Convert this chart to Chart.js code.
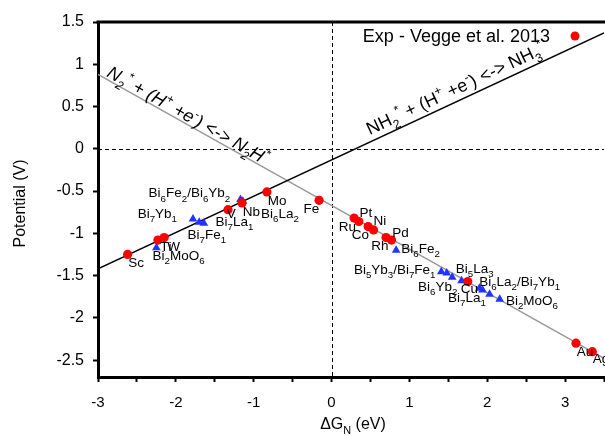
<!DOCTYPE html>
<html>
<head>
<meta charset="utf-8">
<script src="https://cdn.jsdelivr.net/npm/chart.js@4.4.0/dist/chart.umd.min.js"></script>
<style>
  html, body { margin: 0; padding: 0; background: #fff; overflow: hidden; }
</style>
</head>
<body>
<canvas id="potentialChart" width="616" height="436"></canvas>
<script>
const FONT = '"Liberation Sans", Arial, sans-serif';

// Exp - Vegge et al. 2013 (red dots)
const expNames = ['Sc', 'Ti', 'W', 'V', 'Nb', 'Mo', 'Fe', 'Ru', 'Pt', 'Co', 'Ni', 'Rh', 'Pd', 'Cu', 'Au', 'Ag'];
const expX = [-2.62, -2.23, -2.15, -1.33, -1.15, -0.83, -0.16, 0.29, 0.35, 0.47, 0.54, 0.70, 0.77, 1.75, 3.14, 3.35];
const expY = [-1.25, -1.08, -1.05, -0.72, -0.64, -0.51, -0.61, -0.82, -0.86, -0.92, -0.96, -1.05, -1.08, -1.57, -2.30, -2.40];

// Bi compounds (blue triangles)
const biX = [-2.25, -1.78, -1.70, -1.64, -1.17, -1.14, 0.83, 1.41, 1.48, 1.55, 1.67, 1.90, 1.94, 2.03, 2.16];
const biY = [-1.17, -0.83, -0.87, -0.88, -0.60, -0.62, -1.20, -1.455, -1.47, -1.52, -1.56, -1.65, -1.67, -1.72, -1.78];

// reaction lines, given at both ends of the x range
const lineX = [-3, 3.5];
const nh3LineY = [-1.42, 1.37];
const n2hLineY = [0.88, -2.48];

// axis ranges
const xRange = [-3, 3.5];
const yRange = [-2.7, 1.5];

// point labels: text (_ = subscript, ^ = superscript), x, y of left baseline
const pointLabels = [
  ['Bi_6Fe_2/Bi_6Yb_2', -2.35, -0.576],
  ['Bi_7Yb_1', -2.49, -0.817],
  ['Bi_7La_1', -1.49, -0.915],
  ['Bi_7Fe_1', -1.85, -1.072],
  ['Ti', -2.20, -1.207],
  ['W', -2.11, -1.207],
  ['Bi_2MoO_6', -2.30, -1.317],
  ['Sc', -2.61, -1.396],
  ['V', -1.345, -0.824],
  ['Nb', -1.14, -0.793],
  ['Mo', -0.82, -0.667],
  ['Bi_6La_2', -0.905, -0.824],
  ['Fe', -0.36, -0.758],
  ['Pt', 0.36, -0.812],
  ['Ru', 0.094, -0.974],
  ['Ni', 0.54, -0.903],
  ['Co', 0.261, -1.072],
  ['Pd', 0.781, -1.041],
  ['Rh', 0.511, -1.199],
  ['Bi_6Fe_2', 0.897, -1.238],
  ['Bi_5Yb_3/Bi_7Fe_1', 0.287, -1.482],
  ['Bi_5La_3', 1.596, -1.474],
  ['Bi_6Yb_2', 1.111, -1.68],
  ['Cu', 1.66, -1.71],
  ['Bi_6La_2/Bi_7Yb_1', 1.896, -1.624],
  ['Bi_7La_1', 1.497, -1.81],
  ['Bi_2MoO_6', 2.24, -1.849],
  ['Au', 3.149, -2.448],
  ['Ag', 3.355, -2.538]
];

// writes text with _x subscripts and ^x superscripts, returns its width
function richText(ctx, str, x, y, size, style, draw, ratio = 0.68) {
  const small = size * ratio;
  let cx = x;
  for (let i = 0; i < str.length; i++) {
    let ch = str[i], fs = size, dy = 0;
    if (ch === '_') { ch = str[++i]; fs = small; dy = size * 0.3; }
    else if (ch === '^') { ch = str[++i]; fs = small; dy = -size * 0.42; }
    ctx.font = `${style} ${fs}px ${FONT}`;
    if (draw) ctx.fillText(ch, cx, y + dy);
    cx += ctx.measureText(ch).width;
  }
  return cx - x;
}

const annotations = {
  id: 'annotations',
  beforeDatasetsDraw(chart) {
    const { ctx, chartArea: a, scales: { x, y } } = chart;
    ctx.save();
    // dashed zero lines
    ctx.strokeStyle = '#000';
    ctx.lineWidth = 1;
    ctx.setLineDash([4, 3]);
    const x0 = Math.round(x.getPixelForValue(0)) + 0.5;
    const y0 = Math.round(y.getPixelForValue(0)) + 0.5;
    ctx.beginPath();
    ctx.moveTo(x0, a.top); ctx.lineTo(x0, a.bottom);
    ctx.moveTo(a.left, y0); ctx.lineTo(a.right, y0);
    ctx.stroke();
    ctx.restore();
  },
  afterDatasetsDraw(chart) {
    const { ctx, chartArea: a, scales: { x, y } } = chart;
    ctx.save();
    ctx.fillStyle = '#000';
    ctx.textBaseline = 'alphabetic';
    ctx.textAlign = 'left';

    // top frame line
    ctx.strokeStyle = '#000';
    ctx.lineWidth = 3;
    ctx.beginPath();
    ctx.moveTo(a.left - 1.5, a.top);
    ctx.lineTo(a.right + 2, a.top);
    ctx.stroke();

    pointLabels.forEach(([t, lx, ly]) => {
      richText(ctx, t, x.getPixelForValue(lx), y.getPixelForValue(ly), 13.5, 'normal', true, 0.72);
    });

    // reaction labels along the lines
    const lineLabel = (t, lx, ly, yVals, style) => {
      const ang = Math.atan2(y.getPixelForValue(yVals[1]) - y.getPixelForValue(yVals[0]),
                             x.getPixelForValue(lineX[1]) - x.getPixelForValue(lineX[0]));
      ctx.save();
      ctx.translate(x.getPixelForValue(lx), y.getPixelForValue(ly));
      ctx.rotate(ang);
      richText(ctx, t, 0, 0, 18, style, true);
      ctx.restore();
    };
    lineLabel('N_2^* + (H^+ +e^-) <-> N_2H^*', -2.90, 0.86, n2hLineY, 'italic');
    lineLabel('NH_2^* + (H^+ +e^-) <-> NH_3^*', 0.49, 0.16, nh3LineY, 'normal');

    // legend
    ctx.font = `18px ${FONT}`;
    ctx.textAlign = 'right';
    ctx.fillText('Exp - Vegge et al. 2013', 550, 42);
    ctx.fillStyle = '#ff0000';
    ctx.beginPath();
    ctx.arc(575, 36, 4.5, 0, Math.PI * 2);
    ctx.fill();

    // axis titles
    ctx.fillStyle = '#000';
    ctx.textAlign = 'left';
    const xt = 'ΔG_N (eV)';
    const w = richText(ctx, xt, 0, 0, 16, 'normal', false);
    richText(ctx, xt, 353 - w / 2, 429, 16, 'normal', true);

    ctx.translate(21, (a.top + a.bottom) / 2 + 4);
    ctx.rotate(-Math.PI / 2);
    ctx.font = `16px ${FONT}`;
    ctx.textAlign = 'center';
    ctx.textBaseline = 'middle';
    ctx.fillText('Potential (V)', 0, 0);
    ctx.restore();
  }
};

new Chart(document.getElementById('potentialChart'), {
  type: 'scatter',
  data: {
    datasets: [
      {
        label: 'Exp - Vegge et al. 2013',
        data: expX.map((v, i) => ({ x: v, y: expY[i] })),
        backgroundColor: '#ff0000',
        borderWidth: 0,
        pointRadius: 4.6
      },
      {
        label: 'Bi compounds',
        data: biX.map((v, i) => ({ x: v, y: biY[i] })),
        pointStyle: 'triangle',
        backgroundColor: '#2233ff',
        borderWidth: 0,
        pointRadius: 5
      },
      {
        label: 'NH2* -> NH3*',
        type: 'line',
        data: lineX.map((v, i) => ({ x: v, y: nh3LineY[i] })),
        borderColor: '#000',
        borderWidth: 1.4,
        pointRadius: 0
      },
      {
        label: 'N2* -> N2H*',
        type: 'line',
        data: lineX.map((v, i) => ({ x: v, y: n2hLineY[i] })),
        borderColor: '#9a9a9a',
        borderWidth: 1.4,
        pointRadius: 0
      }
    ]
  },
  options: {
    responsive: false,
    animation: false,
    layout: { autoPadding: false, padding: { top: 22, right: 0, left: 0, bottom: 0 } },
    scales: {
      x: {
        type: 'linear',
        min: xRange[0],
        max: xRange[1],
        afterFit: s => { s.height = 59; },
        border: { display: true, color: '#000', width: 3 },
        grid: { drawOnChartArea: false, drawTicks: true, tickLength: 5, tickColor: '#000', tickWidth: 2 },
        ticks: {
          stepSize: 0.5,
          autoSkip: false,
          includeBounds: false,
          maxRotation: 0,
          padding: 12,
          color: '#000',
          font: { family: FONT, size: 15 },
          callback: v => Number.isInteger(v) ? String(v) : ''
        }
      },
      y: {
        type: 'linear',
        min: yRange[0],
        max: yRange[1],
        afterFit: s => { s.width = 98; },
        border: { display: true, color: '#000', width: 3 },
        grid: { drawOnChartArea: false, drawTicks: true, tickLength: 5, tickColor: '#000', tickWidth: 2 },
        ticks: {
          stepSize: 0.5,
          includeBounds: false,
          padding: 9,
          color: '#000',
          font: { family: FONT, size: 16 },
          callback: v => String(Math.round(v * 10) / 10)
        }
      }
    },
    plugins: {
      legend: { display: false },
      tooltip: { enabled: false }
    }
  },
  plugins: [annotations]
});
</script>
</body>
</html>
